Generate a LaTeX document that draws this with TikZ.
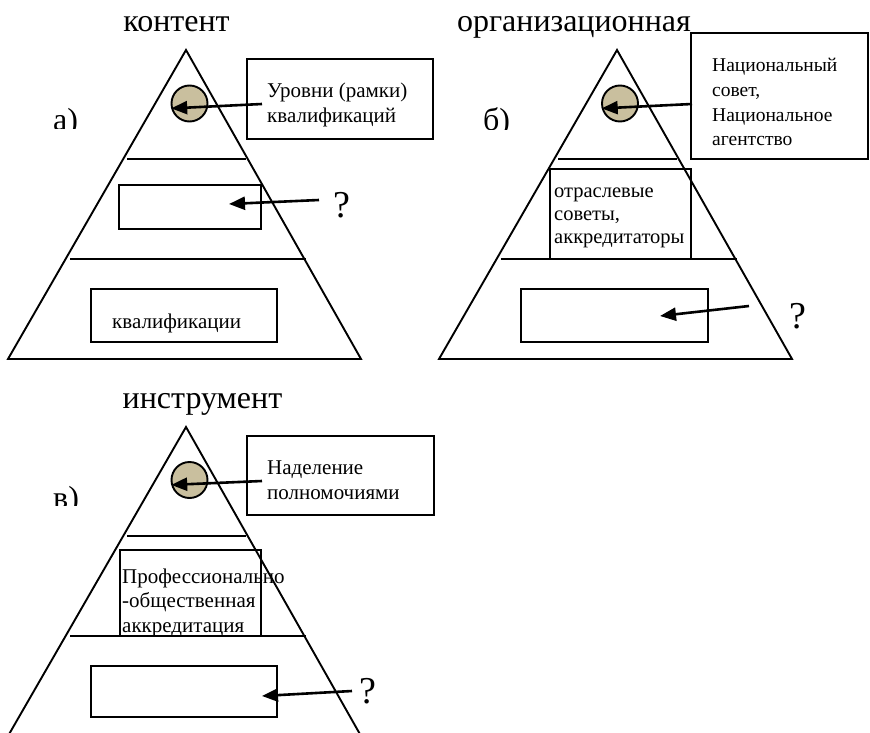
\documentclass[tikz,border=0pt]{standalone}
\usepackage{fontspec}
\setmainfont{Liberation Serif}
\usetikzlibrary{arrows.meta}
\definecolor{diskc}{RGB}{201,191,158}
\begin{document}
\begin{tikzpicture}[x=1pt,y=-1pt,
  ln/.style={line width=1.9pt,line join=miter},
  box/.style={draw,line width=1.9pt,inner sep=0pt,outer sep=0pt,anchor=north west},
  disk/.style={circle,draw,line width=1.9pt,fill=diskc,minimum size=36pt,inner sep=0pt},
  arr/.style={line width=2.6pt,-{Triangle[length=16pt,width=13pt]}},
  ttl/.style={anchor=base,inner sep=0pt,font=\fontsize{32}{36}\selectfont},
  lbl/.style={anchor=base west,inner sep=0pt,font=\fontsize{32}{36}\selectfont},
  qm/.style={anchor=base,inner sep=0pt,font=\fontsize{38}{40}\selectfont},
  txt/.style={anchor=base west,inner sep=0pt,align=left,font=\fontsize{21}{25}\selectfont}]
\useasboundingbox (0,0) rectangle (870,733);
\fill[white] (0,0) rectangle (870,733);

% ---------- panel a ----------
\node[ttl] (tA) at (176.5,32) {контент};
\begin{scope}
  \clip (40,95) rectangle (100,129);
  \node[lbl] (lA) at (53,131) {а)};
\end{scope}
\draw[ln] (186,50) -- (361,359) -- (8,359) -- cycle;
\draw[ln] (127,159) -- (246,159);
\draw[ln] (70,259) -- (306,259);
\node[disk] (cA) at (189.5,103.5) {};
\node[box,minimum width=186pt,minimum height=80pt] (bA1) at (247,59) {};
\node[txt] (xA1) at (267,123) {Уровни (рамки)\\квалификаций};
\node[box,minimum width=142pt,minimum height=44pt] (bA2) at (119,185) {};
\node[box,minimum width=186pt,minimum height=53pt] (bA3) at (91,289) {};
\node[txt] (xA3) at (112,328) {квалификации};
\node[qm] (qA) at (341.5,217) {?};
\coordinate (sA1) at (262,104);
\coordinate (sA2) at (319,200);
\coordinate (eA2) at (229,204);
\draw[arr] (sA1) -- (cA.195);
\draw[arr] (sA2) -- (eA2);

% ---------- panel b ----------
\node[ttl] (tB) at (574,32) {организационная};
\begin{scope}
  \clip (470,95) rectangle (530,130);
  \node[lbl] (lB) at (483,131) {б)};
\end{scope}
\draw[ln] (617,50) -- (792,359) -- (439,359) -- cycle;
\draw[ln] (558,159) -- (677,159);
\draw[ln] (501,259) -- (737,259);
\node[disk] (cB) at (620,103.5) {};
\node[box,minimum width=177pt,minimum height=126pt] (bB1) at (691,33) {};
\node[txt,font=\fontsize{19.5}{24.5}\selectfont] (xB1) at (712,145.5) {Национальный\\совет,\\Национальное\\агентство};
\node[box,minimum width=141pt,minimum height=90pt] (bB2) at (550,169) {};
\node[txt,font=\fontsize{20.5}{23}\selectfont] (xB2) at (554,243) {отраслевые\\советы,\\аккредитаторы};
\node[box,minimum width=187pt,minimum height=53pt] (bB3) at (521,289) {};
\node[qm] (qB) at (797.5,328) {?};
\coordinate (sB1) at (692,104);
\coordinate (sB3) at (749,306);
\coordinate (eB3) at (660,316);
\draw[arr] (sB1) -- (cB.195);
\draw[arr] (sB3) -- (eB3);

% ---------- panel c ----------
\node[ttl] (tC) at (202.5,408) {инструмент};
\begin{scope}
  \clip (40,470) rectangle (100,505);
  \node[lbl] (lC) at (53,508) {в)};
\end{scope}
\draw[ln] (127,536) -- (246,536);
\node[disk] (cC) at (189.5,480) {};
\node[box,minimum width=187pt,minimum height=79pt] (bC1) at (247,436) {};
\node[txt] (xC1) at (267,499) {Наделение\\полномочиями};
\node[box,minimum width=141pt,minimum height=86pt] (bC2) at (120,550) {};
\node[txt,font=\fontsize{21}{24.5}\selectfont] (xC2) at (122,632) {Профессионально\\-общественная\\аккредитация};
\fill[white] (70,637) -- (306,637) -- (361,736) -- (8,736) -- cycle;
\draw[ln] (8,736) -- (186,427) -- (361,736);
\draw[ln] (70,636) -- (306,636);
\node[box,minimum width=186pt,minimum height=51pt] (bC3) at (91,666) {};
\node[qm] (qC) at (367.5,703) {?};
\coordinate (sC1) at (262,481);
\coordinate (sC3) at (352,691);
\coordinate (eC3) at (262,696);
\draw[arr] (sC1) -- (cC.195);
\draw[arr] (sC3) -- (eC3);
\end{tikzpicture}
\end{document}
